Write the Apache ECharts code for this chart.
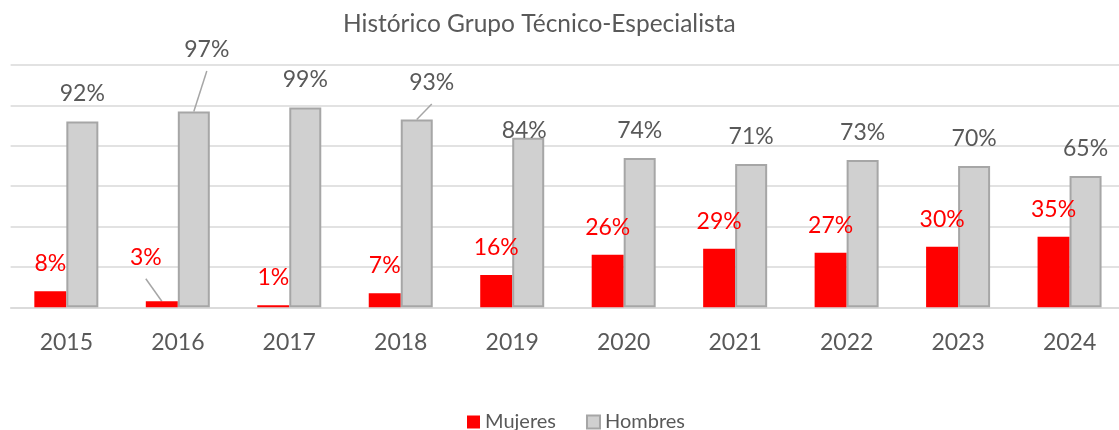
<!DOCTYPE html>
<html lang="es">
<head>
    <meta charset="UTF-8">
    <title>Histórico Grupo Técnico-Especialista</title>
    <script src="https://cdn.jsdelivr.net/npm/echarts/dist/echarts.min.js"></script>
    <style>
        html, body { margin: 0; padding: 0; background: #fff; }
    </style>
</head>
<body>
    <div id="main" style="width: 1119px; height: 430px;"></div>

    <script>
        // Chart data
        var years = ['2015', '2016', '2017', '2018', '2019', '2020', '2021', '2022', '2023', '2024'];
        var mujeres = [8, 3, 1, 7, 16, 26, 29, 27, 30, 35];
        var hombres = [92, 97, 99, 93, 84, 74, 71, 73, 70, 65];

        // Manual label nudges (dx, dy) like in the original sheet
        var mujeresShift = [[0, 0], [-16, -16], [0, 0], [0, 0], [0, 0], [0, 0], [0, 0], [0, 0], [0, 0], [0, 0]];
        var hombresShift = [[0, 0], [13, -34], [0, 0], [15, -9], [-4, 20], [0, 0], [0, 0], [0, 0], [0, 0], [0, 0]];
        var leaders = [[0, 1], [1, 1], [1, 3]]; // [seriesIndex, dataIndex]

        var font = 'Lato, "Noto Sans", sans-serif';
        var gray = '#595959';
        var barW = 32;
        var labelGap = 16;

        var chart = echarts.init(document.getElementById('main'));

        function shifted(shifts) {
            return function (p) {
                var s = shifts[p.dataIndex];
                return { dx: s[0], dy: s[1] };
            };
        }

        var option = {
            animation: false,
            textStyle: { fontFamily: font },
            title: {
                text: 'Histórico Grupo Técnico-Especialista',
                left: 343,
                top: 12,
                padding: 0,
                textStyle: { fontFamily: font, fontSize: 24.5, fontWeight: 'normal', color: gray }
            },
            legend: {
                data: ['Mujeres', 'Hombres'],
                left: 462,
                top: 407,
                icon: 'rect',
                itemWidth: 13,
                itemHeight: 13,
                itemGap: 30,
                textStyle: { fontFamily: font, fontSize: 20, color: gray }
            },
            grid: {
                left: 10.6,
                width: 1114.7,
                top: 65,
                bottom: 122.7,
                outerBoundsMode: 'none'
            },
            xAxis: {
                type: 'category',
                data: years,
                axisTick: { show: false },
                axisLine: { lineStyle: { color: '#d9d9d9', width: 1.5 } },
                axisLabel: { color: gray, fontSize: 23, fontFamily: font, margin: 24 }
            },
            yAxis: {
                type: 'value',
                min: 0,
                max: 120,
                interval: 20,
                axisLabel: { show: false },
                axisLine: { show: false },
                axisTick: { show: false },
                splitLine: { lineStyle: { color: '#d9d9d9', width: 1.5 } }
            },
            series: [{
                name: 'Mujeres',
                type: 'bar',
                barWidth: barW,
                barGap: '0%',
                data: mujeres,
                itemStyle: { color: '#ff0000' },
                label: {
                    show: true,
                    position: 'top',
                    distance: labelGap,
                    formatter: '{c}%',
                    color: '#ff0000',
                    fontSize: 23,
                    fontFamily: font
                },
                labelLayout: shifted(mujeresShift)
            }, {
                name: 'Hombres',
                type: 'bar',
                barWidth: barW,
                barGap: '0%',
                data: hombres,
                itemStyle: { color: '#d0d0d0', borderColor: '#a6a6a6', borderWidth: 2 },
                label: {
                    show: true,
                    position: 'top',
                    distance: labelGap,
                    formatter: '{c}%',
                    color: gray,
                    fontSize: 23,
                    fontFamily: font
                },
                labelLayout: shifted(hombresShift)
            }]
        };

        chart.setOption(option);

        // Leader lines from moved labels down to the top centre of their bar
        var lines = leaders.map(function (l) {
            var s = l[0], i = l[1];
            var vals = s === 0 ? mujeres : hombres;
            var shift = (s === 0 ? mujeresShift : hombresShift)[i];
            var p = chart.convertToPixel({ xAxisIndex: 0, yAxisIndex: 0 }, [i, vals[i]]);
            var bx = p[0] + (s === 0 ? -barW / 2 : barW / 2);
            var top = p[1];
            return {
                type: 'line',
                shape: { x1: bx + shift[0], y1: top + shift[1] - 6.5, x2: bx, y2: top },
                style: { stroke: '#a6a6a6', lineWidth: 1.5 },
                silent: true
            };
        });
        chart.setOption({ graphic: lines });
    </script>
</body>
</html>
